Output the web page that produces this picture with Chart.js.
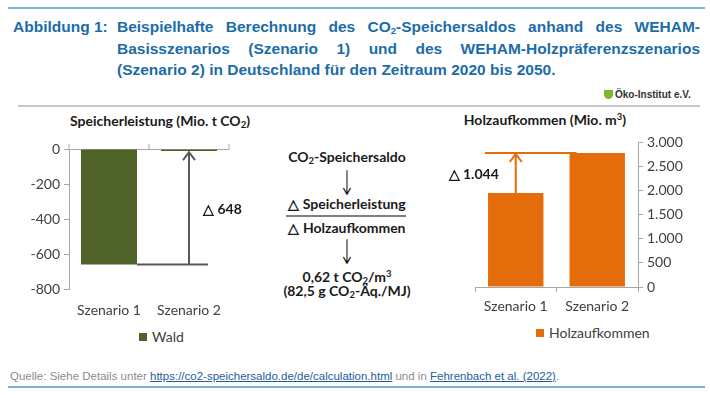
<!DOCTYPE html>
<html>
<head>
<meta charset="utf-8">
<script src="https://cdn.jsdelivr.net/npm/chart.js@4.4.0/dist/chart.umd.min.js"></script>
<style>
body{margin:0;width:710px;height:398px;position:relative;background:#fff;overflow:hidden;font-family:Lato,"Open Sans",sans-serif;color:#1a1a1a}
.abs{position:absolute}
.hr{position:absolute;height:2px}
.title{position:absolute;font-family:"Liberation Sans",Arial,sans-serif;font-weight:bold;font-size:15.5px;color:#1b6ca8;line-height:21.5px}
.title .just{text-align:justify;text-align-last:justify}
.ctitle{position:absolute;font-weight:bold;font-size:14px;text-align:center;white-space:nowrap}
.mid{position:absolute;left:247px;width:200px;text-align:center;font-weight:bold;font-size:14px;line-height:16px;white-space:nowrap}
.arr{font-weight:200;font-size:26px;font-family:"DejaVu Sans",sans-serif;line-height:20px;color:#000;transform:scale(0.75,1.3)}
sub{font-size:9.5px;vertical-align:-2px;line-height:0}
sup{font-size:9.5px;vertical-align:5px;line-height:0}
.foot{position:absolute;left:10px;top:370px;font-family:"Liberation Sans",Arial,sans-serif;font-size:11.5px;color:#8c8c8c;white-space:nowrap}
.foot a{color:#1f5c99;text-decoration:underline}
.leg{position:absolute;font-size:14px;color:#404040;white-space:nowrap;line-height:16px}
.leg i{display:inline-block;width:8px;height:8px;margin-right:5px;vertical-align:1px}
</style>
</head>
<body>
<div class="hr" style="left:8px;top:7px;width:697px;background:#7fb0d4"></div>

<div class="title" style="left:13px;top:16px">Abbildung 1:</div>
<div class="title" style="left:117px;top:16px;width:583px">
  <div class="just">Beispielhafte Berechnung des CO<sub>2</sub>-Speichersaldos anhand des WEHAM-</div>
  <div class="just">Basisszenarios (Szenario 1) und des WEHAM-Holzpräferenzszenarios</div>
  <div>(Szenario 2) in Deutschland für den Zeitraum 2020 bis 2050.</div>
</div>

<div class="abs" style="left:604px;top:90px;width:9px;height:9px;border-radius:0 0 5px 5px;background:#7cb82f"></div>
<div class="abs" style="left:615px;top:89px;font-family:'Liberation Sans Narrow','Liberation Sans',sans-serif;font-weight:bold;font-size:10px;color:#333">Öko-Institut e.V.</div>
<div class="hr" style="left:18px;top:105px;width:682px;background:#c8c8c8"></div>

<div class="ctitle" style="left:60px;width:200px;top:112px">Speicherleistung (Mio. t CO<sub>2</sub>)</div>
<div class="ctitle" style="left:445px;width:200px;top:111px">Holzaufkommen (Mio. m<sup>3</sup>)</div>

<div class="mid" style="top:149px">CO<sub>2</sub>-Speichersaldo</div>
<div class="mid arr" style="top:173px">↓</div>
<div class="mid" style="top:196px">△ Speicherleistung</div>
<div class="hr" style="left:286px;top:215px;width:120px;background:#808080"></div>
<div class="mid" style="top:220px">△ Holzaufkommen</div>
<div class="mid arr" style="top:242px">↓</div>
<div class="mid" style="top:269px">0,62 t CO<sub>2</sub>/m<sup>3</sup></div>
<div class="mid" style="top:283px">(82,5 g CO<sub>2</sub>-Äq./MJ)</div>

<canvas id="left" class="abs" style="left:20px;top:130px" width="230" height="195"></canvas>
<canvas id="right" class="abs" style="left:430px;top:130px" width="280" height="193"></canvas>
<div id="legLeft" class="leg" style="left:139px;top:329px"></div>
<div id="legRight" class="leg" style="left:536px;top:325px"></div>

<div class="foot">Quelle: Siehe Details unter <a>https://co2-speichersaldo.de/de/calculation.html</a> und in <a>Fehrenbach et al. (2022)</a>.</div>
<div class="hr" style="left:8px;top:386px;width:697px;background:#7fb0d4"></div>

<script>
const scenarios = ["Szenario 1", "Szenario 2"];
const storageName = "Wald";
const storageValues = [-660, -12];      // Speicherleistung (Mio. t CO2)
const supplyName = "Holzaufkommen";
const supplyValues = [1950, 2780];      // Holzaufkommen (Mio. m3)
const storageTicks = [-800, 0, 200];    // min, max, step
const supplyTicks = [0, 3000, 500];
const deltaLabels = ["△ 648", "△ 1.044"];

const green = "#4f6228";
const orange = "#e46c0a";
const axisGray = "#a6a6a6";
const tickFont = {family: "Lato", size: 14};

function makeLegend(id, name, color) {
  const el = document.getElementById(id);
  const box = document.createElement("i");
  box.style.background = color;
  el.appendChild(box);
  el.appendChild(document.createTextNode(name));
}
makeLegend("legLeft", storageName, green);
makeLegend("legRight", supplyName, orange);

function makeDeltaPlugin(cfg) {
  return {
    id: "delta" + cfg.name,
    afterDatasetsDraw(chart) {
      const ctx = chart.ctx;
      const y = chart.scales.y;
      const bars = chart.getDatasetMeta(0).data;
      const vals = chart.data.datasets[0].data;
      const from = y.getPixelForValue(vals[0]);
      const to = y.getPixelForValue(vals[1]);
      const ax = bars[cfg.arrowBar].x;
      ctx.save();
      ctx.strokeStyle = cfg.color;
      ctx.lineWidth = 2;
      const gy = cfg.lineAt === "from" ? from : to;
      ctx.beginPath();
      ctx.moveTo(cfg.x1(bars), gy);
      ctx.lineTo(cfg.x2(bars), gy);
      ctx.stroke();
      const dir = to < from ? 1 : -1;
      ctx.beginPath();
      ctx.moveTo(ax, from);
      ctx.lineTo(ax, to + dir);
      ctx.stroke();
      ctx.beginPath();
      ctx.moveTo(ax - 6, to + dir * 9);
      ctx.lineTo(ax, to + dir);
      ctx.lineTo(ax + 6, to + dir * 9);
      ctx.stroke();
      ctx.fillStyle = "#1a1a1a";
      ctx.font = "bold 14px Lato";
      ctx.textAlign = cfg.align;
      ctx.textBaseline = "middle";
      ctx.fillText(cfg.label, ax + cfg.dx, (from + to) / 2 + cfg.dy);
      ctx.restore();
    }
  };
}

// the left x axis sits at 0, so its category ticks are drawn on the zero line
const topTicks = {
  id: "topTicks",
  afterDatasetsDraw(chart) {
    const {ctx, chartArea} = chart;
    const x = chart.scales.x, y = chart.scales.y;
    const y0 = y.getPixelForValue(0);
    const xs = [chartArea.left, (x.getPixelForValue(0) + x.getPixelForValue(1)) / 2, chartArea.right];
    ctx.save();
    ctx.strokeStyle = axisGray;
    ctx.lineWidth = 1;
    xs.forEach(px => {
      ctx.beginPath();
      ctx.moveTo(px, y0);
      ctx.lineTo(px, y0 - 5);
      ctx.stroke();
    });
    ctx.restore();
  }
};

new Chart(document.getElementById("left"), {
  type: "bar",
  data: {
    labels: scenarios,
    datasets: [{label: storageName, data: storageValues, backgroundColor: green, borderWidth: 0,
      barPercentage: 0.7, categoryPercentage: 1}]
  },
  options: {
    responsive: false,
    animation: false,
    layout: {padding: {left: 0, right: 21, top: 19, bottom: 0}},
    plugins: {legend: {display: false}, tooltip: {enabled: false}},
    scales: {
      x: {
        grid: {display: false},
        border: {display: false},
        ticks: {color: "#404040", font: tickFont, padding: 5},
        afterFit: s => { s.height = 36; }
      },
      y: {
        min: storageTicks[0], max: storageTicks[1],
        ticks: {stepSize: storageTicks[2], color: "#404040", font: tickFont, padding: 4},
        grid: {color: c => c.tick.value === 0 ? axisGray : "rgba(0,0,0,0)", tickColor: axisGray, tickLength: 5},
        border: {color: axisGray},
        afterFit: s => { s.width = 49; }
      }
    }
  },
  plugins: [topTicks, makeDeltaPlugin({
    name: "L", color: "#595959", arrowBar: 1, lineAt: "from",
    x1: b => b[0].x + b[0].width / 2, x2: b => b[1].x + 19,
    label: deltaLabels[0], align: "left", dx: 14, dy: 2
  })]
});

new Chart(document.getElementById("right"), {
  type: "bar",
  data: {
    labels: scenarios,
    datasets: [{label: supplyName, data: supplyValues, backgroundColor: orange, borderWidth: 0,
      barPercentage: 0.68, categoryPercentage: 1}]
  },
  options: {
    responsive: false,
    animation: false,
    layout: {padding: {left: 45, right: 0, top: 8, bottom: 0}},
    plugins: {legend: {display: false}, tooltip: {enabled: false}},
    scales: {
      x: {
        grid: {drawOnChartArea: false, color: axisGray, tickLength: 5},
        border: {color: axisGray},
        ticks: {color: "#404040", font: tickFont, padding: 6},
        afterFit: s => { s.height = 36; }
      },
      y: {
        position: "right",
        min: supplyTicks[0], max: supplyTicks[1],
        ticks: {stepSize: supplyTicks[2], color: "#404040", font: tickFont, padding: 4,
          callback: v => v.toLocaleString("de-DE")},
        grid: {drawOnChartArea: false, color: axisGray, tickLength: 5},
        border: {color: axisGray},
        afterFit: s => { s.width = 72; }
      }
    }
  },
  plugins: [makeDeltaPlugin({
    name: "R", color: orange, arrowBar: 0, lineAt: "to",
    x1: b => b[0].x - b[0].width / 2 - 3, x2: b => b[1].x - b[1].width / 2 + 7,
    label: deltaLabels[1], align: "right", dx: -17, dy: 1
  })]
});
</script>
</body>
</html>
